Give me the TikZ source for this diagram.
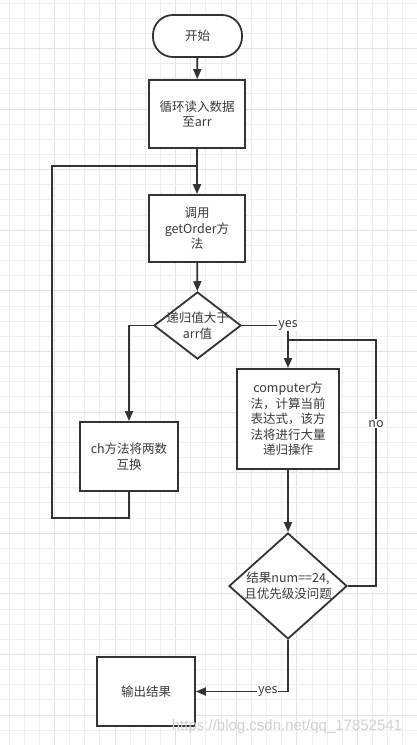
\documentclass[tikz,border=0pt]{standalone}
\usepackage{fontspec}
\newfontfamily\cjk{Noto Sans CJK SC}
\newfontfamily\wmfont{Liberation Sans}
\usetikzlibrary{shapes.geometric,arrows.meta}
\definecolor{ln}{HTML}{333333}
\definecolor{tx}{HTML}{3A3A3A}
\definecolor{gridminor}{HTML}{EEEEEE}
\definecolor{gridmajor}{HTML}{E2E2E2}
\begin{document}
\begin{tikzpicture}[x=1pt,y=-1pt,
  every node/.style={font=\cjk\fontsize{12.5}{15.5}\selectfont, text=tx},
  boxstyle/.style={draw=ln, line width=1.8pt, fill=white, rectangle, inner sep=0pt, align=center},
  termstyle/.style={draw=ln, line width=1.8pt, fill=white, rectangle, rounded corners=20pt, inner sep=0pt},
  decstyle/.style={draw=ln, line width=1.8pt, fill=white, diamond, inner sep=0pt},
  txtstyle/.style={align=center, inner sep=0pt},
  lbl/.style={fill=white, inner sep=1pt},
  conn/.style={draw=ln, line width=1.8pt},
  arr/.style={conn, -{Triangle[length=10pt,width=8pt]}}
]
\useasboundingbox (0,0) rectangle (417,745);
\fill[white] (0,0) rectangle (417,745);
% grid
\foreach \i in {0,...,27} {
  \pgfmathsetmacro{\xx}{9+15.15*\i}
  \pgfmathtruncatemacro{\m}{mod(\i,4)}
  \ifnum\m=3
    \draw[gridmajor, line width=1pt] (\xx,0) -- (\xx,745);
  \else
    \draw[gridminor, line width=1pt] (\xx,0) -- (\xx,745);
  \fi
}
\foreach \i in {0,...,49} {
  \pgfmathsetmacro{\yy}{3+15.15*\i}
  \pgfmathtruncatemacro{\m}{mod(\i,4)}
  \ifnum\m=3
    \draw[gridmajor, line width=1pt] (0,\yy) -- (417,\yy);
  \else
    \draw[gridminor, line width=1pt] (0,\yy) -- (417,\yy);
  \fi
}

% nodes
\node[termstyle, minimum width=89pt, minimum height=42pt] (start) at (197.5,36) {开始};
\node[boxstyle, minimum width=96pt, minimum height=68pt] (b1) at (197,114) {循环读入数据\\至arr};
\node[boxstyle, minimum width=96pt, minimum height=67pt] (b2) at (197,228.5) {调用\\getOrder方\\法};
\node[decstyle, minimum width=87pt, minimum height=67pt] (d1) at (197.5,325.5) {};
\node[txtstyle] (d1t) at (197.5,325.5) {递归值大于\\arr值};
\node[boxstyle, minimum width=98pt, minimum height=69pt] (ch) at (129,456.5) {ch方法将两数\\互换};
\node[boxstyle, minimum width=102pt, minimum height=100pt, anchor=north] (comp) at (288,368) {computer方\\法，计算当前\\表达式，该方\\法将进行大量\\递归操作};
\node[decstyle, minimum width=118pt, minimum height=106pt] (d2) at (288,586) {};
\node[txtstyle] (d2t) at (288,586) {结果num==24,\\且优先级没问题};
\node[boxstyle, minimum width=98pt, minimum height=69pt] (out) at (146,691.5) {输出结果};

% coordinates for loops
\coordinate (lb) at (52,518);
\coordinate (lt) at (52,166);
\coordinate (j1) at (197,166);
\coordinate (nc) at (376,340);
\coordinate (nj) at (288,340);

% connectors
\draw[arr] (start) -- (b1);
\draw[arr] (b1) -- (b2);
\draw[arr] (b2) -- (d1);
\draw[arr] (d1.west) -| (ch.north);
\draw[conn] (ch.south) |- (lb) -- (lt) -- (j1);
\draw[arr] (d1.east) -| node[lbl, pos=0.5] (yes1) {yes} (comp.north);
\draw[conn] (d2.east) -| node[lbl, pos=0.83] (no1) {no} (nc) -- (nj);
\draw[arr] (comp) -- (d2);
\draw[arr] (d2.south) |- node[lbl, pos=0.61] (yes2) {yes} (out.east);

% watermark
\node[font=\wmfont\fontsize{15}{15}\selectfont, text=black!18] (wm) at (287,727) {https://blog.csdn.net/qq\_17852541};
\end{tikzpicture}
\end{document}
